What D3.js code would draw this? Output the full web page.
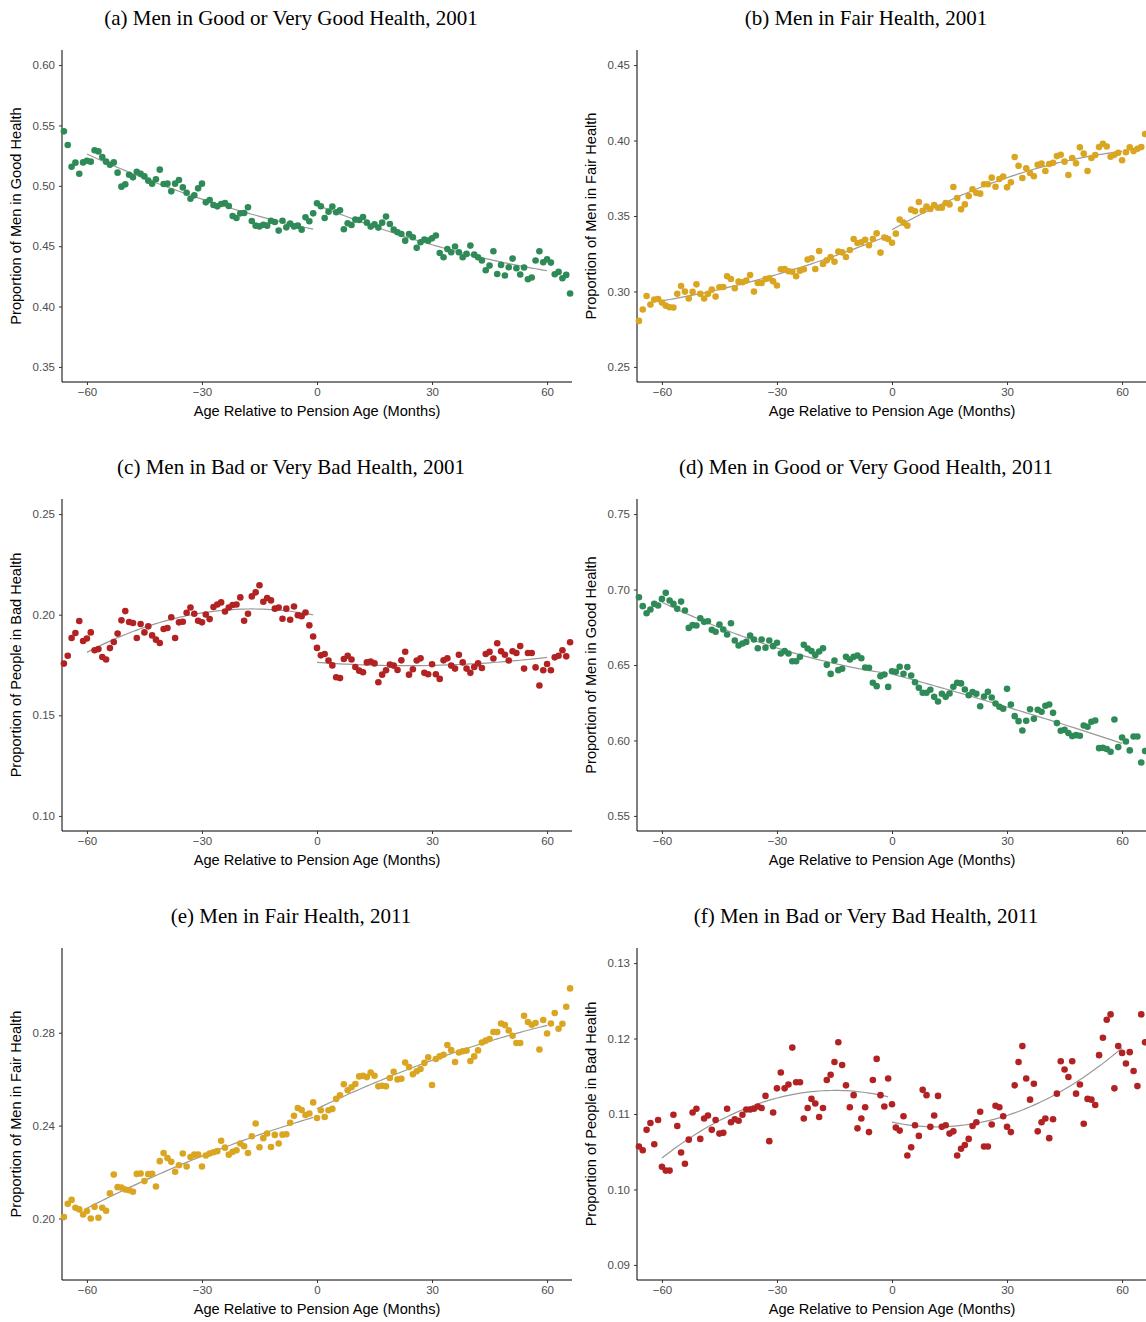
<!DOCTYPE html>
<html>
<head>
<meta charset="utf-8">
<script src="https://cdn.jsdelivr.net/npm/d3@7"></script>
<style>
  body { margin: 0; background: #fff; }
  svg { display: block; }
  .tick-label { font-family: "Liberation Sans", Arial, sans-serif; font-size: 11.5px; fill: #4d4d4d; }
  .axis-title { font-family: "Liberation Sans", Arial, sans-serif; font-size: 14.6px; fill: #000; }
  .panel-title { font-family: "Liberation Serif", "Times New Roman", serif; font-size: 21px; fill: #000; }
</style>
</head>
<body>
<svg id="chart" width="1146" height="1322"></svg>
<script>
//////////
// Data //
//////////

// months relative to pension age
var months = d3.range(-66, 67);

var xTicks = [-60, -30, 0, 30, 60];

var goodHealth2001 = [
  0.5451, 0.5338, 0.5158, 0.5192, 0.5100, 0.5194, 0.5208, 0.5200, 0.5294, 0.5285,
  0.5238, 0.5200, 0.5175, 0.5194, 0.5109, 0.4993, 0.5012, 0.5092, 0.5070, 0.5117,
  0.5100, 0.5078, 0.5043, 0.5018, 0.5054, 0.5134, 0.5015, 0.5018, 0.4954, 0.5018,
  0.5048, 0.4987, 0.4943, 0.4893, 0.4921, 0.4979, 0.5018, 0.4863, 0.4882, 0.4841,
  0.4830, 0.4849, 0.4858, 0.4833, 0.4750, 0.4733, 0.4772, 0.4775, 0.4822, 0.4709,
  0.4670, 0.4664, 0.4678, 0.4670, 0.4711, 0.4700, 0.4629, 0.4711, 0.4656, 0.4687,
  0.4664, 0.4670, 0.4637, 0.4739, 0.4706, 0.4772,
  0.4855, 0.4831, 0.4734, 0.4786, 0.4828, 0.4781, 0.4797, 0.4640, 0.4690, 0.4676,
  0.4720, 0.4717, 0.4742, 0.4695, 0.4662, 0.4681, 0.4654, 0.4695, 0.4745, 0.4684,
  0.4637, 0.4615, 0.4601, 0.4546, 0.4601, 0.4574, 0.4486, 0.4532, 0.4555, 0.4546,
  0.4566, 0.4588, 0.4444, 0.4408, 0.4477, 0.4450, 0.4497, 0.4450, 0.4408, 0.4436,
  0.4505, 0.4430, 0.4408, 0.4381, 0.4301, 0.4339, 0.4458, 0.4270, 0.4345, 0.4257,
  0.4326, 0.4397, 0.4317, 0.4265, 0.4323, 0.4226, 0.4240, 0.4381, 0.4458, 0.4367,
  0.4392, 0.4364, 0.4268, 0.4287, 0.4234, 0.4262, 0.4108
];

var fairHealth2001 = [
  0.2805, 0.2880, 0.2970, 0.2913, 0.2946, 0.2950, 0.2926, 0.2906, 0.2895, 0.2893,
  0.2984, 0.3036, 0.2999, 0.2953, 0.2997, 0.3047, 0.2984, 0.2953, 0.2984, 0.3012,
  0.2966, 0.3028, 0.3030, 0.3101, 0.3083, 0.3021, 0.3065, 0.3061, 0.3072, 0.3109,
  0.2999, 0.3056, 0.3056, 0.3083, 0.3087, 0.3067, 0.3039, 0.3147, 0.3149, 0.3134,
  0.3131, 0.3101, 0.3138, 0.3147, 0.3211, 0.3220, 0.3149, 0.3268, 0.3182, 0.3206,
  0.3228, 0.3197, 0.3264, 0.3259, 0.3228, 0.3275, 0.3348, 0.3321, 0.3326, 0.3343,
  0.3306, 0.3348, 0.3385, 0.3257, 0.3357, 0.3348,
  0.3323, 0.3383, 0.3476, 0.3456, 0.3436, 0.3542, 0.3531, 0.3593, 0.3535, 0.3562,
  0.3546, 0.3573, 0.3555, 0.3555, 0.3586, 0.3577, 0.3692, 0.3619, 0.3544, 0.3577,
  0.3632, 0.3677, 0.3652, 0.3648, 0.3710, 0.3710, 0.3754, 0.3694, 0.3745, 0.3761,
  0.3690, 0.3723, 0.3891, 0.3833, 0.3752, 0.3816, 0.3785, 0.3763, 0.3840, 0.3847,
  0.3798, 0.3845, 0.3853, 0.3897, 0.3906, 0.3860, 0.3772, 0.3884, 0.3849, 0.3955,
  0.3913, 0.3798, 0.3884, 0.3904, 0.3957, 0.3979, 0.3961, 0.3893, 0.3906, 0.3919,
  0.3869, 0.3922, 0.3955, 0.3930, 0.3946, 0.3957, 0.4043
];

var badHealth2001 = [
  0.1757, 0.1796, 0.1884, 0.1909, 0.1969, 0.1869, 0.1882, 0.1912, 0.1823, 0.1829,
  0.1790, 0.1777, 0.1834, 0.1864, 0.1906, 0.1972, 0.2018, 0.1964, 0.1959, 0.1884,
  0.1954, 0.1912, 0.1942, 0.1897, 0.1876, 0.1859, 0.1929, 0.1934, 0.1987, 0.1884,
  0.1962, 0.1965, 0.2010, 0.2036, 0.2005, 0.1970, 0.1962, 0.2001, 0.1978, 0.2038,
  0.2051, 0.2061, 0.2016, 0.2036, 0.2048, 0.2051, 0.2086, 0.1970, 0.2005, 0.2091,
  0.2111, 0.2146, 0.2064, 0.2083, 0.2071, 0.2030, 0.2036, 0.1980, 0.2030, 0.1975,
  0.2041, 0.1997, 0.1992, 0.2011, 0.1947, 0.1892,
  0.1835, 0.1798, 0.1805, 0.1772, 0.1748, 0.1689, 0.1685, 0.1780, 0.1796, 0.1777,
  0.1740, 0.1722, 0.1714, 0.1763, 0.1767, 0.1758, 0.1664, 0.1702, 0.1724, 0.1752,
  0.1747, 0.1725, 0.1773, 0.1816, 0.1702, 0.1729, 0.1772, 0.1783, 0.1711, 0.1704,
  0.1754, 0.1704, 0.1681, 0.1773, 0.1783, 0.1747, 0.1732, 0.1801, 0.1763, 0.1732,
  0.1711, 0.1740, 0.1758, 0.1735, 0.1805, 0.1815, 0.1782, 0.1858, 0.1818, 0.1801,
  0.1772, 0.1818, 0.1810, 0.1844, 0.1732, 0.1810, 0.1810, 0.1738, 0.1648, 0.1724,
  0.1755, 0.1724, 0.1788, 0.1796, 0.1823, 0.1793, 0.1863
];

var goodHealth2011 = [
  0.6949, 0.6890, 0.6843, 0.6868, 0.6905, 0.6894, 0.6938, 0.6978, 0.6927, 0.6905,
  0.6872, 0.6920, 0.6861, 0.6746, 0.6764, 0.6762, 0.6810, 0.6786, 0.6790, 0.6733,
  0.6720, 0.6768, 0.6735, 0.6702, 0.6777, 0.6662, 0.6629, 0.6642, 0.6653, 0.6695,
  0.6669, 0.6611, 0.6669, 0.6614, 0.6662, 0.6625, 0.6647, 0.6576, 0.6592, 0.6576,
  0.6525, 0.6525, 0.6554, 0.6634, 0.6609, 0.6592, 0.6567, 0.6589, 0.6611, 0.6501,
  0.6441, 0.6530, 0.6466, 0.6475, 0.6554, 0.6536, 0.6554, 0.6563, 0.6545, 0.6483,
  0.6481, 0.6382, 0.6360, 0.6426, 0.6437, 0.6355,
  0.6459, 0.6455, 0.6488, 0.6442, 0.6486, 0.6430, 0.6386, 0.6349, 0.6316, 0.6316,
  0.6336, 0.6289, 0.6258, 0.6309, 0.6289, 0.6311, 0.6356, 0.6382, 0.6378, 0.6338,
  0.6300, 0.6320, 0.6309, 0.6227, 0.6291, 0.6322, 0.6285, 0.6245, 0.6223, 0.6210,
  0.6342, 0.6238, 0.6161, 0.6128, 0.6066, 0.6130, 0.6207, 0.6143, 0.6203, 0.6190,
  0.6230, 0.6238, 0.6183, 0.6115, 0.6064, 0.6071, 0.6049, 0.6029, 0.6035, 0.6031,
  0.6099, 0.6091, 0.6124, 0.6132, 0.5949, 0.5951, 0.5943, 0.5925, 0.6139, 0.5956,
  0.6020, 0.5993, 0.5934, 0.6026, 0.6026, 0.5854, 0.5930
];

var fairHealth2011 = [
  0.2006, 0.2063, 0.2080, 0.2046, 0.2039, 0.2017, 0.2032, 0.2000, 0.2050, 0.2003,
  0.2046, 0.2033, 0.2108, 0.2189, 0.2135, 0.2133, 0.2125, 0.2122, 0.2115, 0.2192,
  0.2194, 0.2161, 0.2191, 0.2192, 0.2138, 0.2247, 0.2282, 0.2260, 0.2244, 0.2201,
  0.2229, 0.2280, 0.2224, 0.2265, 0.2275, 0.2275, 0.2224, 0.2271, 0.2280, 0.2285,
  0.2290, 0.2335, 0.2305, 0.2275, 0.2287, 0.2294, 0.2323, 0.2311, 0.2282, 0.2354,
  0.2409, 0.2307, 0.2346, 0.2366, 0.2308, 0.2360, 0.2323, 0.2361, 0.2363, 0.2412,
  0.2442, 0.2476, 0.2467, 0.2446, 0.2452, 0.2500,
  0.2433, 0.2466, 0.2437, 0.2466, 0.2472, 0.2515, 0.2531, 0.2578, 0.2552, 0.2565,
  0.2579, 0.2612, 0.2614, 0.2609, 0.2629, 0.2615, 0.2569, 0.2572, 0.2569, 0.2605,
  0.2632, 0.2599, 0.2602, 0.2672, 0.2652, 0.2621, 0.2634, 0.2644, 0.2670, 0.2694,
  0.2575, 0.2687, 0.2698, 0.2705, 0.2747, 0.2725, 0.2674, 0.2715, 0.2720, 0.2723,
  0.2678, 0.2698, 0.2724, 0.2758, 0.2766, 0.2773, 0.2803, 0.2803, 0.2840, 0.2833,
  0.2810, 0.2787, 0.2756, 0.2756, 0.2873, 0.2846, 0.2834, 0.2842, 0.2728, 0.2855,
  0.2797, 0.2840, 0.2885, 0.2817, 0.2839, 0.2912, 0.2991
];

var badHealth2011 = [
  0.1057, 0.1052, 0.1079, 0.1088, 0.1060, 0.1092, 0.1030, 0.1025, 0.1025, 0.1099,
  0.1084, 0.1049, 0.1034, 0.1066, 0.1102, 0.1107, 0.1067, 0.1094, 0.1098, 0.1079,
  0.1092, 0.1074, 0.1075, 0.1107, 0.1089, 0.1093, 0.1091, 0.1099, 0.1106, 0.1106,
  0.1107, 0.1110, 0.1108, 0.1124, 0.1064, 0.1102, 0.1134, 0.1155, 0.1134, 0.1139,
  0.1188, 0.1142, 0.1142, 0.1094, 0.1108, 0.1120, 0.1114, 0.1096, 0.1108, 0.1145,
  0.1152, 0.1169, 0.1195, 0.1165, 0.1138, 0.1109, 0.1125, 0.1081, 0.1094, 0.1109,
  0.1076, 0.1145, 0.1173, 0.1125, 0.1110, 0.1147,
  0.1113, 0.1082, 0.1078, 0.1097, 0.1045, 0.1056, 0.1085, 0.1071, 0.1132, 0.1125,
  0.1083, 0.1098, 0.1124, 0.1083, 0.1085, 0.1074, 0.1077, 0.1045, 0.1054, 0.1059,
  0.1067, 0.1084, 0.1089, 0.1103, 0.1057, 0.1057, 0.1086, 0.1111, 0.1109, 0.1097,
  0.1083, 0.1076, 0.1138, 0.1169, 0.1190, 0.1147, 0.1119, 0.1140, 0.1077, 0.1089,
  0.1094, 0.1068, 0.1093, 0.1127, 0.1170, 0.1159, 0.1149, 0.1170, 0.1127, 0.1139,
  0.1087, 0.1120, 0.1119, 0.1112, 0.1178, 0.1201, 0.1225, 0.1232, 0.1134, 0.1190,
  0.1181, 0.1167, 0.1182, 0.1157, 0.1137, 0.1232, 0.1195
];

var titles = [
  '(a) Men in Good or Very Good Health, 2001',
  '(b) Men in Fair Health, 2001',
  '(c) Men in Bad or Very Bad Health, 2001',
  '(d) Men in Good or Very Good Health, 2011',
  '(e) Men in Fair Health, 2011',
  '(f) Men in Bad or Very Bad Health, 2011'
];

var yLabels = [
  'Proportion of Men in Good Health',
  'Proportion of Men in Fair Health',
  'Proportion of People in Bad Health',
  'Proportion of Men in Good Health',
  'Proportion of Men in Fair Health',
  'Proportion of People in Bad Health'
];

var yTicks = [
  [0.35, 0.40, 0.45, 0.50, 0.55, 0.60],
  [0.25, 0.30, 0.35, 0.40, 0.45],
  [0.10, 0.15, 0.20, 0.25],
  [0.55, 0.60, 0.65, 0.70, 0.75],
  [0.20, 0.24, 0.28],
  [0.09, 0.10, 0.11, 0.12, 0.13]
];

var yDomains = [
  [0.3375, 0.6125],
  [0.24, 0.46],
  [0.0925, 0.2575],
  [0.54, 0.76],
  [0.1735, 0.3165],
  [0.088, 0.132]
];

var series = [goodHealth2001, fairHealth2001, badHealth2001,
              goodHealth2011, fairHealth2011, badHealth2011];

var GREEN = '#2e8b57', GOLD = '#daa520', RED = '#b22222';
var colors = [GREEN, GOLD, RED, GREEN, GOLD, RED];

////////////
// Layout //
////////////

var panelW = 575, rowH = 449;
var plotLeft = 62, plotTop = 50, plotW = 510, plotH = 332;

var svg = d3.select('#chart');

/////////////
// Helpers //
/////////////

// quadratic least squares fit, returns [a, b, c] for a + b*x + c*x^2
var quadFit = function(xs, ys) {
  var s = [0, 0, 0, 0, 0], t = [0, 0, 0];
  xs.forEach(function(x, i) {
    var p = 1;
    for (var k = 0; k < 5; k++) { s[k] += p; if (k < 3) t[k] += p * ys[i]; p *= x; }
  });
  var m = [
    [s[0], s[1], s[2], t[0]],
    [s[1], s[2], s[3], t[1]],
    [s[2], s[3], s[4], t[2]]
  ];
  // gaussian elimination
  for (var i = 0; i < 3; i++) {
    for (var j = i + 1; j < 3; j++) {
      var f = m[j][i] / m[i][i];
      for (var k2 = i; k2 < 4; k2++) m[j][k2] -= f * m[i][k2];
    }
  }
  var c = [0, 0, 0];
  for (var r = 2; r >= 0; r--) {
    var v = m[r][3];
    for (var q = r + 1; q < 3; q++) v -= m[r][q] * c[q];
    c[r] = v / m[r][r];
  }
  return c;
};

var fmtY = function(d) { return d.toFixed(2); };
var fmtX = function(d) { return d < 0 ? '\u2212' + Math.abs(d) : String(d); };

////////////
// Panels //
////////////

series.forEach(function(values, idx) {
  var col = idx % 2, row = Math.floor(idx / 2);
  var g = svg.append('g')
    .attr('transform', 'translate(' + (col * panelW) + ',' + (row * rowH) + ')');

  var x = d3.scaleLinear().domain([-66.5, 66.5]).range([plotLeft, plotLeft + plotW]);
  var y = d3.scaleLinear().domain(yDomains[idx]).range([plotTop + plotH, plotTop]);

  // title
  g.append('text')
    .attr('class', 'panel-title')
    .attr('x', 291)
    .attr('y', 25)
    .attr('text-anchor', 'middle')
    .text(titles[idx]);

  // y axis
  var yAxis = g.append('g')
    .attr('transform', 'translate(' + plotLeft + ',0)')
    .call(d3.axisLeft(y).tickValues(yTicks[idx]).tickFormat(fmtY).tickSize(3).tickPadding(4));
  yAxis.select('.domain').attr('d', 'M0,' + plotTop + 'V' + (plotTop + plotH)).attr('stroke', '#000');
  yAxis.selectAll('.tick line').attr('stroke', '#333');
  yAxis.selectAll('.tick text').attr('class', 'tick-label').attr('fill', null);

  // x axis
  var xAxis = g.append('g')
    .attr('transform', 'translate(0,' + (plotTop + plotH) + ')')
    .call(d3.axisBottom(x).tickValues(xTicks).tickFormat(fmtX).tickSize(3).tickPadding(3));
  xAxis.select('.domain').attr('d', 'M' + plotLeft + ',0H' + (plotLeft + plotW)).attr('stroke', '#000');
  xAxis.selectAll('.tick line').attr('stroke', '#333');
  xAxis.selectAll('.tick text').attr('class', 'tick-label').attr('fill', null);

  // axis titles
  g.append('text')
    .attr('class', 'axis-title')
    .attr('x', plotLeft + plotW / 2)
    .attr('y', plotTop + plotH + 34)
    .attr('text-anchor', 'middle')
    .text('Age Relative to Pension Age (Months)');

  g.append('text')
    .attr('class', 'axis-title')
    .attr('transform', 'translate(21,' + (plotTop + plotH / 2) + ') rotate(-90)')
    .attr('text-anchor', 'middle')
    .text(yLabels[idx]);

  // fitted lines either side of pension age
  var pts = months.map(function(m, i) { return {m: m, v: values[i]}; });
  var sides = [
    pts.filter(function(d) { return d.m >= -60 && d.m < 0; }),
    pts.filter(function(d) { return d.m >= 0 && d.m <= 60; })
  ];
  var line = d3.line()
    .x(function(d) { return x(d.m); })
    .y(function(d) { return y(d.v); });

  sides.forEach(function(side) {
    var c = quadFit(side.map(function(d) { return d.m; }), side.map(function(d) { return d.v; }));
    var fitted = side.map(function(d) { return {m: d.m, v: c[0] + c[1] * d.m + c[2] * d.m * d.m}; });
    g.append('path')
      .datum(fitted)
      .attr('d', line)
      .attr('fill', 'none')
      .attr('stroke', '#999')
      .attr('stroke-width', 1.2);
  });

  // points
  g.append('g').selectAll('circle')
    .data(pts)
    .enter()
    .append('circle')
      .attr('cx', function(d) { return x(d.m); })
      .attr('cy', function(d) { return y(d.v); })
      .attr('r', 3.3)
      .attr('fill', colors[idx]);
});
</script>
</body>
</html>
